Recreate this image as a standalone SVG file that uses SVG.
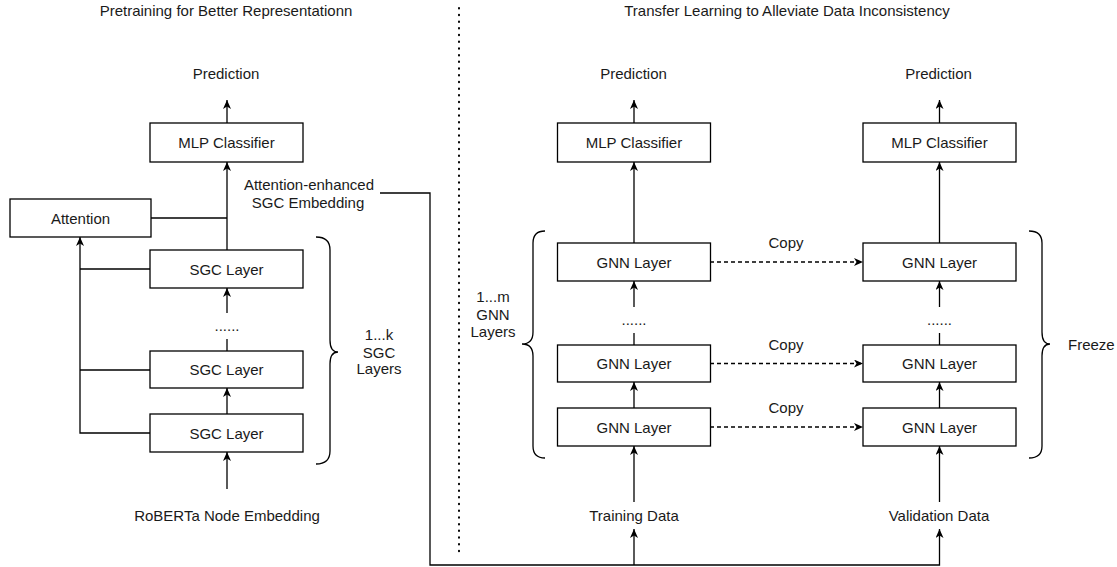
<svg xmlns="http://www.w3.org/2000/svg" width="1117" height="567" viewBox="0 0 1117 567">
<style>
  text { font-family: "Liberation Sans", Arial, sans-serif; font-size: 15px; fill: #1a1a1a; text-anchor: middle; }
  .box { fill: #fff; stroke: #000; stroke-width: 1.3; }
  .ln { fill: none; stroke: #000; stroke-width: 1.3; }
  .arr { fill: none; stroke: #000; stroke-width: 1.3; marker-end: url(#ah); }
  .dash { fill: none; stroke: #000; stroke-width: 1.3; stroke-dasharray: 4 3; marker-end: url(#ah); }
  .brace { fill: none; stroke: #000; stroke-width: 1.3; }
  .div { fill: none; stroke: #000; stroke-width: 2; stroke-dasharray: 0.5 6.2; stroke-linecap: round; }
</style>
<defs>
  <marker id="ah" markerUnits="userSpaceOnUse" viewBox="0 0 9 8" refX="9" refY="4" markerWidth="9" markerHeight="8" orient="auto">
    <path d="M0,0 L9,4 L0,8 L2.5,4 Z" fill="#000"/>
  </marker>
</defs>
<rect width="1117" height="567" fill="#fff"/>

<g id="titles">
  <text x="226" y="16">Pretraining for Better Representationn</text>
  <text x="787" y="16">Transfer Learning to Alleviate Data Inconsistency</text>
</g>
<line class="div" x1="459" y1="8" x2="459" y2="553"/>

<g id="connectors">
  <!-- left column -->
  <line class="arr" x1="227" y1="123" x2="227" y2="100"/>
  <line class="arr" x1="227" y1="250" x2="227" y2="162"/>
  <line class="ln" x1="151" y1="218" x2="227" y2="218"/>
  <line class="arr" x1="227" y1="313" x2="227" y2="288"/>
  <line class="ln" x1="227" y1="351" x2="227" y2="339"/>
  <line class="arr" x1="227" y1="414" x2="227" y2="388"/>
  <line class="arr" x1="227" y1="489" x2="227" y2="452"/>
  <polyline class="arr" points="150,433 80,433 80,237"/>
  <line class="ln" x1="80" y1="269" x2="150" y2="269"/>
  <line class="ln" x1="80" y1="370" x2="150" y2="370"/>
  <polyline class="arr" points="380,193 430,193 430,565 939.5,565 939.5,529"/>
  <line class="arr" x1="634" y1="565" x2="634" y2="529"/>
  <!-- training column -->
  <line class="arr" x1="634" y1="123" x2="634" y2="100"/>
  <line class="arr" x1="634" y1="243" x2="634" y2="162"/>
  <line class="arr" x1="634" y1="307" x2="634" y2="281"/>
  <line class="ln" x1="634" y1="345" x2="634" y2="333"/>
  <line class="arr" x1="634" y1="408" x2="634" y2="382"/>
  <line class="arr" x1="634" y1="502" x2="634" y2="446"/>
  <!-- validation column -->
  <line class="arr" x1="939.5" y1="123" x2="939.5" y2="100"/>
  <line class="arr" x1="939.5" y1="243" x2="939.5" y2="162"/>
  <line class="arr" x1="939.5" y1="307" x2="939.5" y2="281"/>
  <line class="ln" x1="939.5" y1="345" x2="939.5" y2="333"/>
  <line class="arr" x1="939.5" y1="408" x2="939.5" y2="382"/>
  <line class="arr" x1="939.5" y1="502" x2="939.5" y2="446"/>
  <!-- copy arrows -->
  <line class="dash" x1="710" y1="262" x2="863" y2="262"/>
  <line class="dash" x1="710" y1="363.5" x2="863" y2="363.5"/>
  <line class="dash" x1="710" y1="427" x2="863" y2="427"/>
  <text x="786" y="248">Copy</text>
  <text x="786" y="350">Copy</text>
  <text x="786" y="413">Copy</text>
</g>

<g id="left-prediction"><text x="226" y="79">Prediction</text></g>
<g id="left-mlp"><rect class="box" x="150" y="123" width="153" height="39"/><text x="226.5" y="148">MLP Classifier</text></g>
<g id="attention"><rect class="box" x="10" y="199" width="141" height="38"/><text x="80.5" y="223.5">Attention</text></g>
<g id="attention-label"><text x="309" y="189.5">Attention-enhanced</text><text x="308" y="208">SGC Embedding</text></g>
<g id="sgc1"><rect class="box" x="150" y="250" width="153" height="38"/><text x="226.5" y="274.5">SGC Layer</text></g>
<g id="sgc-dots"><text x="227" y="331">......</text></g>
<g id="sgc2"><rect class="box" x="150" y="351" width="153" height="37"/><text x="226.5" y="375">SGC Layer</text></g>
<g id="sgc3"><rect class="box" x="150" y="414" width="153" height="38"/><text x="226.5" y="438.5">SGC Layer</text></g>
<g id="roberta"><text x="227" y="521">RoBERTa Node Embedding</text></g>
<g id="sgc-brace">
  <path class="brace" d="M316,237 Q330,237 330,250 L330,340 Q330,352 338,352 Q330,352 330,364 L330,451 Q330,464 316,464"/>
  <text x="379" y="340">1...k</text><text x="379" y="357.5">SGC</text><text x="379" y="374">Layers</text>
</g>

<g id="train-prediction"><text x="633.5" y="79">Prediction</text></g>
<g id="train-mlp"><rect class="box" x="557.5" y="123" width="153" height="39"/><text x="634" y="148">MLP Classifier</text></g>
<g id="train-gnn1"><rect class="box" x="557.5" y="243" width="153" height="38"/><text x="634" y="267.5">GNN Layer</text></g>
<g id="train-dots"><text x="634" y="325">......</text></g>
<g id="train-gnn2"><rect class="box" x="557.5" y="345" width="153" height="37"/><text x="634" y="369">GNN Layer</text></g>
<g id="train-gnn3"><rect class="box" x="557.5" y="408" width="153" height="38"/><text x="634" y="432.5">GNN Layer</text></g>
<g id="training-data"><text x="634" y="521">Training Data</text></g>
<g id="gnn-brace">
  <path class="brace" d="M545,231 Q533,231 533,243 L533,332 Q533,344 522,344 Q533,344 533,356 L533,446 Q533,458 545,458"/>
  <text x="493" y="302">1...m</text><text x="493" y="319.5">GNN</text><text x="493" y="336.5">Layers</text>
</g>

<g id="val-prediction"><text x="938.5" y="79">Prediction</text></g>
<g id="val-mlp"><rect class="box" x="863" y="123" width="153" height="39"/><text x="939.5" y="148">MLP Classifier</text></g>
<g id="val-gnn1"><rect class="box" x="863" y="243" width="153" height="38"/><text x="939.5" y="267.5">GNN Layer</text></g>
<g id="val-dots"><text x="939.5" y="325">......</text></g>
<g id="val-gnn2"><rect class="box" x="863" y="345" width="153" height="37"/><text x="939.5" y="369">GNN Layer</text></g>
<g id="val-gnn3"><rect class="box" x="863" y="408" width="153" height="38"/><text x="939.5" y="432.5">GNN Layer</text></g>
<g id="validation-data"><text x="939" y="521">Validation Data</text></g>
<g id="freeze-brace">
  <path class="brace" d="M1029,231 Q1042,231 1042,243 L1042,332 Q1042,344 1050,344 Q1042,344 1042,356 L1042,446 Q1042,458 1029,458"/>
  <text x="1068" y="349.5" style="text-anchor:start">Freeze</text>
</g>
</svg>
